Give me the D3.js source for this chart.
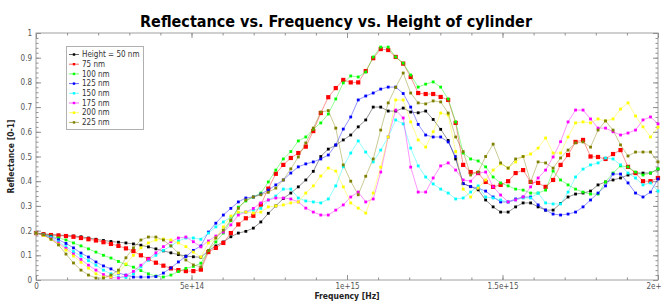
<!DOCTYPE html>
<html>
<head>
<meta charset="utf-8">
<script src="https://cdn.jsdelivr.net/npm/d3@7"></script>
<style>
  html, body { margin: 0; padding: 0; background: #fff; }
  svg { display: block; }
  text { font-family: "DejaVu Sans Condensed", "DejaVu Sans", sans-serif; }
</style>
</head>
<body>
<div id="container"></div>
<script>
// Frequency samples (THz), 0 .. 2e15 Hz
const freqTHz = [
  0, 24.1, 48.2, 72.3, 96.4, 120.5, 144.6, 168.7, 192.8, 216.9,
  241.0, 265.1, 289.2, 313.3, 337.3, 361.4, 385.5, 409.6, 433.7, 457.8,
  481.9, 506.0, 530.1, 554.2, 578.3, 602.4, 626.5, 650.6, 674.7, 698.8,
  722.9, 747.0, 771.1, 795.2, 819.3, 843.4, 867.5, 891.6, 915.7, 939.8,
  963.9, 988.0, 1012.0, 1036.1, 1060.2, 1084.3, 1108.4, 1132.5, 1156.6, 1180.7,
  1204.8, 1228.9, 1253.0, 1277.1, 1301.2, 1325.3, 1349.4, 1373.5, 1397.6, 1421.7,
  1445.8, 1469.9, 1494.0, 1518.1, 1542.2, 1566.3, 1590.4, 1614.5, 1638.6, 1662.7,
  1686.7, 1710.8, 1734.9, 1759.0, 1783.1, 1807.2, 1831.3, 1855.4, 1879.5, 1903.6,
  1927.7, 1951.8, 1975.9, 2000.0
];

// Reflectance per cylinder height
const h50 = [
  .19, .187, .184, .182, .18, .178, .175, .17, .165, .16,
  .156, .153, .15, .146, .141, .134, .126, .118, .11, .103,
  .097, .094, .092, .118, .138, .154, .175, .19, .197, .21,
  .235, .27, .30, .33, .352, .377, .405, .44, .50, .53,
  .546, .567, .587, .62, .648, .70, .70, .684, .684, .696,
  .68, .677, .684, .65, .61, .565, .49, .39, .378, .365,
  .324, .296, .275, .275, .296, .312, .312, .296, .283, .283,
  .31, .336, .348, .352, .36, .385, .397, .405, .413, .425,
  .433, .433, .433, .449
];
const h75 = [
  .19, .185, .182, .18, .178, .175, .17, .165, .16, .153,
  .146, .138, .128, .117, .10, .085, .07, .058, .047, .04,
  .036, .036, .042, .113, .13, .15, .19, .225, .25, .26,
  .305, .37, .43, .466, .494, .514, .54, .603, .676, .74,
  .777, .81, .80, .80, .846, .898, .935, .931, .903, .876,
  .822, .757, .753, .753, .741, .729, .636, .466, .437, .433,
  .397, .377, .385, .40, .433, .445, .397, .393, .377, .405,
  .466, .506, .559, .567, .50, .498, .49, .51, .526, .458,
  .433, .40, .40, .413
];
const h100 = [
  .19, .185, .178, .17, .162, .15, .138, .126, .113, .10,
  .089, .075, .062, .052, .038, .025, .016, .012, .02, .034,
  .047, .055, .068, .12, .154, .19, .24, .295, .32, .336,
  .352, .397, .445, .49, .52, .563, .579, .611, .636, .672,
  .733, .798, .826, .822, .842, .903, .943, .943, .903, .878,
  .83, .781, .793, .802, .781, .733, .64, .514, .49, .482,
  .458, .417, .393, .381, .368, .364, .352, .352, .364, .441,
  .405, .385, .368, .356, .348, .348, .397, .433, .462, .458,
  .437, .425, .433, .45
];
const h125 = [
  .19, .183, .175, .163, .148, .13, .109, .093, .073, .057,
  .045, .028, .02, .012, .012, .012, .014, .028, .049, .073,
  .095, .12, .138, .194, .23, .263, .29, .316, .332, .336,
  .348, .364, .385, .405, .433, .458, .47, .478, .49, .506,
  .547, .611, .66, .729, .745, .757, .773, .781, .781, .755,
  .70, .63, .587, .579, .579, .559, .50, .39, .378, .372,
  .36, .336, .316, .316, .328, .336, .336, .304, .283, .267,
  .263, .267, .275, .296, .324, .352, .381, .429, .429, .393,
  .352, .336, .356, .409
];
const h150 = [
  .19, .183, .172, .155, .135, .115, .097, .078, .06, .04,
  .025, .012, .01, .025, .053, .08, .10, .12, .138, .158,
  .17, .17, .165, .19, .215, .235, .255, .271, .275, .283,
  .29, .324, .34, .368, .368, .332, .32, .316, .312, .328,
  .381, .458, .514, .563, .518, .478, .526, .579, .648, .632,
  .534, .462, .417, .389, .368, .352, .328, .332, .356, .381,
  .336, .332, .324, .316, .324, .332, .332, .352, .312, .308,
  .308, .356, .417, .449, .466, .474, .494, .49, .466, .433,
  .413, .385, .393, .36
];
const h175 = [
  .19, .182, .168, .15, .128, .105, .083, .06, .04, .022,
  .01, .008, .018, .035, .06, .085, .11, .135, .155, .17,
  .174, .155, .134, .158, .178, .194, .223, .263, .275, .29,
  .312, .324, .332, .332, .328, .316, .291, .275, .263, .263,
  .283, .304, .336, .356, .316, .328, .437, .579, .688, .656,
  .457, .356, .356, .413, .462, .474, .445, .405, .40, .433,
  .437, .377, .344, .316, .324, .336, .377, .413, .445, .498,
  .56, .64, .688, .688, .652, .615, .615, .60, .587, .595,
  .607, .648, .66, .632
];
const h200 = [
  .19, .18, .165, .145, .121, .097, .072, .048, .025, .012,
  .012, .03, .065, .10, .13, .15, .162, .166, .162, .15,
  .135, .113, .093, .15, .17, .215, .259, .275, .275, .271,
  .275, .296, .30, .304, .312, .316, .352, .381, .421, .453,
  .441, .377, .312, .291, .271, .352, .457, .579, .729, .729,
  .64, .567, .538, .60, .676, .668, .52, .368, .336, .372,
  .405, .445, .47, .453, .478, .50, .51, .534, .575, .514,
  .514, .579, .636, .64, .636, .652, .644, .652, .692, .717,
  .664, .62, .579, .619
];
const h225 = [
  .19, .183, .165, .142, .105, .069, .04, .02, .008, .008,
  .02, .04, .09, .13, .162, .174, .174, .162, .138, .109,
  .081, .061, .053, .12, .17, .202, .243, .29, .324, .336,
  .345, .355, .372, .405, .45, .498, .555, .615, .68, .686,
  .615, .466, .40, .345, .42, .49, .607, .717, .78, .838,
  .757, .717, .713, .725, .721, .676, .579, .52, .425, .437,
  .50, .55, .474, .453, .49, .50, .397, .478, .474, .453,
  .494, .526, .555, .559, .538, .607, .644, .607, .547, .502,
  .518, .518, .518, .478
];

const seriesNames = ["Height = 50 nm", "75 nm", "100 nm", "125 nm", "150 nm", "175 nm", "200 nm", "225 nm"];
const seriesValues = [h50, h75, h100, h125, h150, h175, h200, h225];
const seriesColors = ["#000000", "#ff0000", "#00ff00", "#0000ff", "#00ffff", "#ff00ff", "#ffff00", "#808000"];

const xTickValues = [0, 5e14, 1e15, 1.5e15, 2e15];
const xTickLabels = ["0", "5e+14", "1e+15", "1.5e+15", "2e+15"];
const yTickValues = [0, 0.1, 0.2, 0.3, 0.4, 0.5, 0.6, 0.7, 0.8, 0.9, 1];

const width = 662;
const height = 302;
const margin = { top: 33, right: 4, bottom: 22, left: 36 };

const x = d3.scaleLinear().domain([0, 2e15]).range([margin.left, width - margin.right]);
const y = d3.scaleLinear().domain([0, 1]).range([height - margin.bottom, margin.top]);

const svg = d3.select("#container").append("svg")
    .attr("width", width)
    .attr("height", height);

// Title
svg.append("text")
    .attr("x", 336)
    .attr("y", 27)
    .attr("text-anchor", "middle")
    .attr("font-size", 16)
    .attr("font-weight", "bold")
    .attr("fill", "#000")
    .attr("textLength", 392)
    .attr("lengthAdjust", "spacingAndGlyphs")
    .text("Reflectance vs. Frequency vs. Height of cylinder");

// Plot frame
svg.append("rect")
    .attr("x", x(0))
    .attr("y", y(1))
    .attr("width", x(2e15) - x(0))
    .attr("height", y(0) - y(1))
    .attr("fill", "#fff")
    .attr("stroke", "#a0a0a0");

const axisColor = "#909090";
const labelColor = "#555";

function styleAxis(g) {
    g.select(".domain").remove();
    g.selectAll(".tick line").attr("stroke", axisColor);
    g.selectAll(".tick text").attr("fill", labelColor).attr("font-size", 8)
        .attr("font-family", "\"DejaVu Sans Condensed\", \"DejaVu Sans\", sans-serif");
}

// minor ticks (inward on all four sides)
svg.append("g").attr("transform", `translate(0,${y(0)})`)
    .call(d3.axisBottom(x).ticks(20).tickSize(-2.5).tickFormat(""))
    .call(styleAxis);
svg.append("g").attr("transform", `translate(0,${y(1)})`)
    .call(d3.axisTop(x).ticks(20).tickSize(-2.5).tickFormat(""))
    .call(styleAxis);
svg.append("g").attr("transform", `translate(${x(0)},0)`)
    .call(d3.axisLeft(y).ticks(40).tickSize(-2.5).tickFormat(""))
    .call(styleAxis);
svg.append("g").attr("transform", `translate(${x(2e15)},0)`)
    .call(d3.axisRight(y).ticks(40).tickSize(-2.5).tickFormat(""))
    .call(styleAxis);

// major ticks with labels
svg.append("g").attr("transform", `translate(0,${y(0)})`)
    .call(d3.axisBottom(x).tickValues(xTickValues).tickSize(-5).tickPadding(3)
        .tickFormat((d, i) => xTickLabels[i]))
    .call(styleAxis);
svg.append("g").attr("transform", `translate(0,${y(1)})`)
    .call(d3.axisTop(x).tickValues(xTickValues).tickSize(-5).tickFormat(""))
    .call(styleAxis);
svg.append("g").attr("transform", `translate(${x(0)},0)`)
    .call(d3.axisLeft(y).tickValues(yTickValues).tickSize(-5).tickPadding(4)
        .tickFormat(d3.format("~g")))
    .call(styleAxis);
svg.append("g").attr("transform", `translate(${x(2e15)},0)`)
    .call(d3.axisRight(y).tickValues(yTickValues).tickSize(-5).tickFormat(""))
    .call(styleAxis);

// Axis titles
svg.append("text")
    .attr("x", x(1e15))
    .attr("y", 299)
    .attr("text-anchor", "middle")
    .attr("font-size", 8.5)
    .attr("font-weight", "bold")
    .attr("fill", "#222")
    .text("Frequency [Hz]");

svg.append("text")
    .attr("transform", `translate(14,${y(0.5)}) rotate(-90)`)
    .attr("text-anchor", "middle")
    .attr("font-size", 8.5)
    .attr("font-weight", "bold")
    .attr("fill", "#222")
    .text("Reflectance [0-1]");

// Series
const line = d3.line()
    .x((d, i) => x(freqTHz[i] * 1e12))
    .y(d => y(d));

const plot = svg.append("g");

seriesValues.forEach((vals, k) => {
    const g = plot.append("g");
    g.append("path")
        .datum(vals)
        .attr("d", line)
        .attr("fill", "none")
        .attr("stroke", seriesColors[k])
        .attr("stroke-opacity", 0.42)
        .attr("stroke-width", 1);
    const s = k === 1 ? 4.2 : 2.8;
    g.selectAll("rect")
        .data(vals)
        .join("rect")
        .attr("x", (d, i) => x(freqTHz[i] * 1e12) - s / 2)
        .attr("y", d => y(d) - s / 2)
        .attr("width", s)
        .attr("height", s)
        .attr("fill", seriesColors[k]);
});

// Legend
const legend = svg.append("g");
legend.append("rect")
    .attr("x", 66.5)
    .attr("y", 46.5)
    .attr("width", 77)
    .attr("height", 83)
    .attr("fill", "#fff")
    .attr("stroke", "#b0b0b0");

const item = legend.selectAll("g.item")
    .data(seriesNames)
    .join("g")
    .attr("class", "item")
    .attr("transform", (d, i) => `translate(0,${54.5 + i * 9.7})`);

item.append("line")
    .attr("x1", 69)
    .attr("x2", 79)
    .attr("stroke", (d, i) => seriesColors[i])
    .attr("stroke-opacity", 0.6);

item.append("rect")
    .attr("x", 72.8)
    .attr("y", -1.2)
    .attr("width", 2.4)
    .attr("height", 2.4)
    .attr("fill", (d, i) => seriesColors[i]);

item.append("text")
    .attr("x", 82)
    .attr("dy", "0.33em")
    .attr("font-size", 8)
    .attr("fill", "#333")
    .text(d => d);
</script>
</body>
</html>
